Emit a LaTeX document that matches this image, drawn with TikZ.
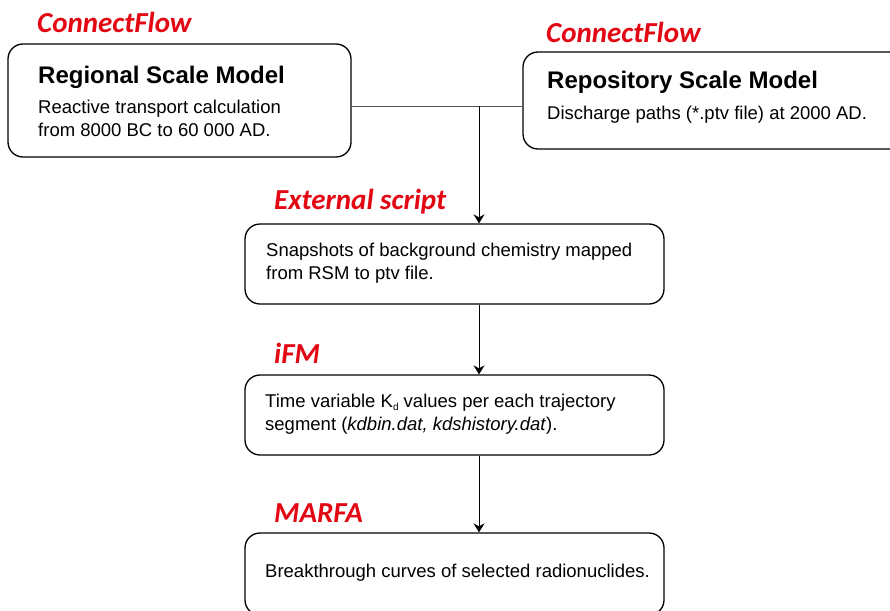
\documentclass[tikz,border=0pt]{standalone}
\usepackage{fontspec}
\setmainfont{Liberation Sans}
\newfontfamily\calib{Carlito}
\usetikzlibrary{arrows.meta}
\definecolor{tool}{RGB}{227,6,19}
\tikzset{
  box/.style={draw=black, line width=1.3pt, rounded corners=15pt, fill=white, inner sep=0pt},
  tool/.style={anchor=west, inner sep=0pt, text=tool, font=\calib\fontsize{29}{33}\selectfont\bfseries\itshape},
  title/.style={anchor=west, inner sep=0pt, font=\fontsize{24}{28}\selectfont\bfseries},
  body/.style={anchor=west, inner sep=0pt, align=left, font=\fontsize{18.5}{23}\selectfont},
  conn/.style={line width=0.8pt},
  arr/.style={line width=0.8pt, -{Stealth[length=9pt,width=11pt,inset=3pt]}}
}
\begin{document}
\begin{tikzpicture}[x=1pt,y=-1pt]
\useasboundingbox (0,0) rectangle (890,610);
\clip (0,0) rectangle (890,610);
% boxes
\node[box, minimum width=343pt, minimum height=113pt] (rsm) at (179.5,100.5) {};
\node[box, minimum width=385pt, minimum height=97pt] (rep) at (715.5,100.5) {};
\node[box, minimum width=419pt, minimum height=80pt] (snap) at (454.5,264) {};
\node[box, minimum width=419pt, minimum height=80pt] (kd) at (454.5,415) {};
\node[box, minimum width=419pt, minimum height=82pt] (btc) at (454.5,574) {};
% connectors
\coordinate (j) at (479,106);
\draw[conn, draw=black!65] (rsm.east |- j) -- (rep.west |- j);
\draw[arr] (j) -- (j |- snap.north);
\draw[arr] (j |- snap.south) -- (j |- kd.north);
\draw[arr] (j |- kd.south) -- (j |- btc.north);
% labels
\node[tool] (l1) at (37,22) {ConnectFlow};
\node[tool] (l2) at (546,32) {ConnectFlow};
\node[tool] (l3) at (274,202) {External script};
\node[tool] (l4) at (274,353) {iFM};
\node[tool] (l5) at (274,513) {MARFA};
% texts
\node[title] (t1) at (38,77) {Regional Scale Model};
\node[body] (b1) at (38,118.5) {Reactive transport calculation\\from 8000 BC to 60 000 AD.};
\node[title] (t2) at (547,82) {Repository Scale Model};
\node[body] (b2) at (547,115) {Discharge paths (*.ptv file) at 2000 AD.};
\node[body] (b3) at (266,263.5) {Snapshots of background chemistry mapped\\from RSM to ptv file.};
\node[body] (b4) at (265,414) {Time variable K\raisebox{-0.35ex}{\fontsize{10}{10}\selectfont d} values per each trajectory\\segment (\textit{kdbin.dat, kdshistory.dat}).};
\node[body] (b5) at (265,573) {Breakthrough curves of selected radionuclides.};
\end{tikzpicture}
\end{document}
